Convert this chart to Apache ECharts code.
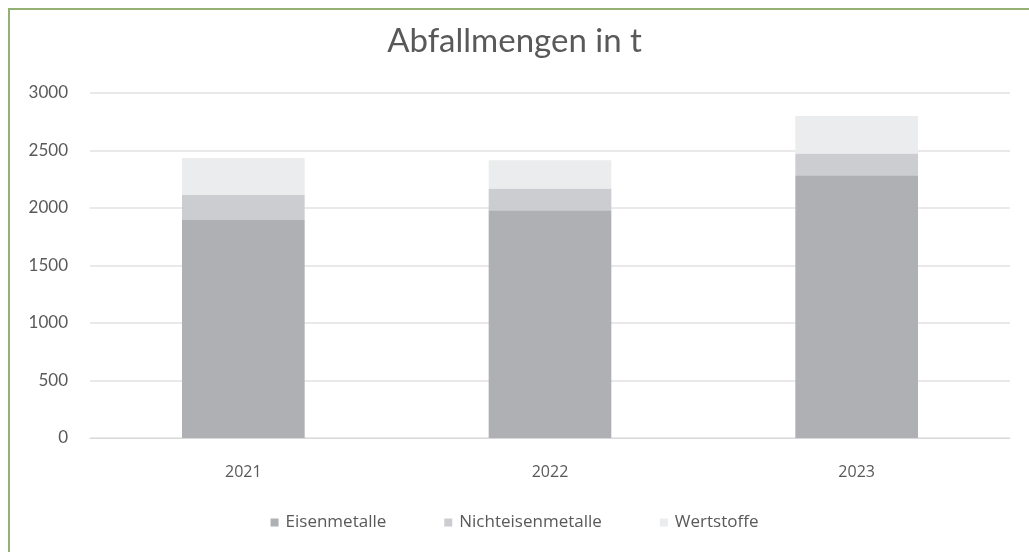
<!DOCTYPE html>
<html>
<head>
<meta charset="utf-8">
<script src="https://cdn.jsdelivr.net/npm/echarts@6/dist/echarts.min.js"></script>
<style>
  html, body { margin: 0; padding: 0; background: #fff; }
  #main { position: absolute; left: 0; top: 0; width: 1029px; height: 552px; }
  #frame { position: absolute; left: 8px; top: 8px; width: 1100px; height: 600px;
           border-left: 2px solid #93b173; border-top: 2px solid #93b173; pointer-events: none; }
</style>
</head>
<body>
<div id="main"></div>
<div id="frame"></div>
<script>
// Abfallmengen (t) je Jahr
var years = ['2021', '2022', '2023'];
var eisenmetalle = [1895, 1980, 2285];
var nichteisenmetalle = [220, 190, 190];
var wertstoffe = [320, 245, 325];

var textColor = '#595959';
var chart = echarts.init(document.getElementById('main'));

function stackSeries(name, data, color) {
    return {
        name: name,
        type: 'bar',
        stack: 'total',
        barWidth: '40%',
        itemStyle: { color: color },
        emphasis: { disabled: true },
        data: data
    };
}

chart.setOption({
    animation: false,
    textStyle: { fontFamily: 'Lato' },
    title: {
        text: 'Abfallmengen in t',
        left: 'center',
        top: 20,
        textStyle: { fontSize: 33, fontWeight: 'normal', color: textColor, fontFamily: 'Lato' }
    },
    legend: {
        bottom: 16,
        left: 'center',
        itemWidth: 8,
        itemHeight: 8,
        itemGap: 58,
        icon: 'rect',
        textStyle: { fontSize: 17, color: textColor, fontFamily: 'Open Sans', padding: [0, 0, 0, 2] }
    },
    grid: { left: 90, right: 19, top: 93, bottom: 114, containLabel: false },
    xAxis: {
        type: 'category',
        data: years,
        axisLine: { lineStyle: { color: '#d9d9d9' } },
        axisTick: { show: false },
        axisLabel: { fontSize: 16, color: textColor, margin: 26, fontFamily: 'Open Sans' }
    },
    yAxis: {
        type: 'value',
        min: 0,
        max: 3000,
        interval: 500,
        axisLine: { show: false },
        axisTick: { show: false },
        splitLine: { lineStyle: { color: '#e3e0e0', width: 1.5 } },
        axisLabel: { fontSize: 17, color: textColor, margin: 22, formatter: function (v) { return String(v); } }
    },
    series: [
        stackSeries('Eisenmetalle', eisenmetalle, '#aeb0b3'),
        stackSeries('Nichteisenmetalle', nichteisenmetalle, '#cbcdd0'),
        stackSeries('Wertstoffe', wertstoffe, '#ebeced')
    ]
});
</script>
</body>
</html>
